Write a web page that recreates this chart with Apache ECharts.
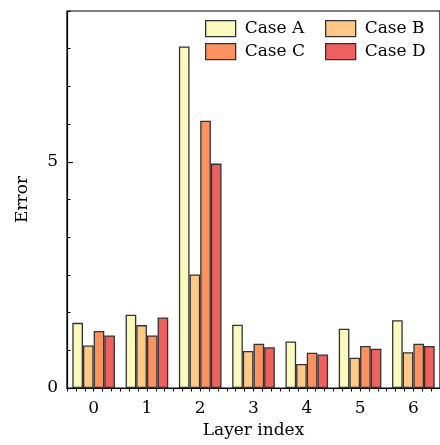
<!DOCTYPE html>
<html>
<head>
<meta charset="utf-8">
<script src="https://cdn.jsdelivr.net/npm/echarts@6/dist/echarts.min.js"></script>
<style>
  html, body { margin: 0; padding: 0; background: #fff; }
  #chart { width: 440px; height: 445px; }
</style>
</head>
<body>
<div id="chart"></div>
<script>
var layers = ['0', '1', '2', '3', '4', '5', '6'];
var caseNames = ['Case A', 'Case B', 'Case C', 'Case D'];
var caseA = [1.44, 1.62, 7.55, 1.40, 1.03, 1.31, 1.50];
var caseB = [0.94, 1.39, 2.51, 0.82, 0.53, 0.67, 0.79];
var caseC = [1.26, 1.16, 5.91, 0.98, 0.78, 0.93, 0.98];
var caseD = [1.16, 1.56, 4.96, 0.90, 0.74, 0.87, 0.93];
var caseColors = ['#fafabe', '#fec887', '#fc9262', '#ee615f'];
var yTickLabels = ['0', '5'];

var font = 'DejaVu Serif';
var fs = 17;
var yMax = 25 / 3;
var minorPerLayer = 6;

var chart = echarts.init(document.getElementById('chart'));

function makeSeries(name, data, color) {
    return {
        name: name,
        type: 'bar',
        xAxisIndex: 0,
        yAxisIndex: 0,
        data: data,
        barGap: '0%',
        barCategoryGap: '20%',
        itemStyle: { color: color, borderColor: '#333', borderWidth: 1.3 }
    };
}

// one legend per entry so the 2x2 grid lines up like the original
function makeLegend(name, left, top) {
    return {
        data: [name],
        left: left,
        top: top,
        padding: 0,
        itemWidth: 30,
        itemHeight: 16,
        icon: 'rect',
        itemStyle: { borderColor: '#333', borderWidth: 1.3 },
        textStyle: { fontFamily: font, fontSize: fs, color: '#000', padding: [0, 0, 0, 4] }
    };
}

var option = {
    animation: false,
    backgroundColor: '#fff',
    grid: {
        left: 67, top: 11, width: 378, height: 377, containLabel: false,
        show: true, borderColor: '#000', borderWidth: 1.2, backgroundColor: 'transparent'
    },
    legend: [
        makeLegend(caseNames[0], 205, 20),
        makeLegend(caseNames[1], 325, 20),
        makeLegend(caseNames[2], 205, 43),
        makeLegend(caseNames[3], 325, 43)
    ],
    xAxis: [
        {
            type: 'category',
            data: layers,
            position: 'bottom',
            name: 'Layer index',
            nameLocation: 'middle',
            nameGap: 34,
            nameTextStyle: { fontFamily: font, fontSize: fs, color: '#000' },
            axisLine: { lineStyle: { color: '#000', width: 1.2 } },
            axisTick: { alignWithLabel: true, length: 6, lineStyle: { color: '#000', width: 1.2 } },
            axisLabel: { fontFamily: font, fontSize: fs, color: '#000', margin: 12 },
            splitLine: { show: false }
        },
        {
            // minor ticks, measured in sixths of a layer from the left edge
            type: 'value',
            min: 0,
            max: layers.length * minorPerLayer,
            interval: 1,
            position: 'bottom',
            axisLine: { show: true, onZero: false, lineStyle: { color: '#000', width: 1.2 } },
            axisTick: { show: true, length: 3.5, lineStyle: { color: '#000', width: 1 } },
            axisLabel: { show: false },
            splitLine: { show: false }
        }
    ],
    yAxis: [
        {
            type: 'value',
            min: 0,
            max: yMax,
            interval: 5,
            position: 'left',
            name: 'Error',
            nameLocation: 'middle',
            nameGap: 36,
            nameTextStyle: { fontFamily: font, fontSize: fs, color: '#000' },
            axisLine: { show: true, lineStyle: { color: '#000', width: 1.2 } },
            axisTick: { show: true, inside: true, length: 6, lineStyle: { color: '#000', width: 1.2 } },
            axisLabel: {
                fontFamily: font, fontSize: fs, color: '#000', margin: 9,
                showMaxLabel: false,
                formatter: function (v) {
                    var s = String(Math.round(v));
                    return (Math.abs(v - Math.round(v)) < 1e-6 && yTickLabels.indexOf(s) >= 0) ? s : '';
                }
            },
            splitLine: { show: false }
        },
        {
            type: 'value',
            min: 0,
            max: yMax,
            interval: 5 / 6,
            position: 'left',
            axisLine: { show: false },
            axisTick: { show: true, inside: true, length: 3.5, lineStyle: { color: '#000', width: 1 } },
            axisLabel: { show: false },
            splitLine: { show: false }
        }
    ],
    series: [
        makeSeries(caseNames[0], caseA, caseColors[0]),
        makeSeries(caseNames[1], caseB, caseColors[1]),
        makeSeries(caseNames[2], caseC, caseColors[2]),
        makeSeries(caseNames[3], caseD, caseColors[3])
    ]
};

chart.setOption(option);
</script>
</body>
</html>
